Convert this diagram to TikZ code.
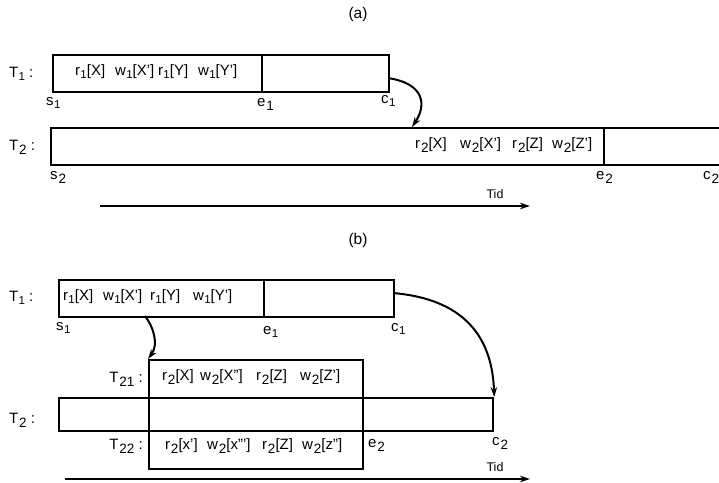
\documentclass[tikz,border=0pt]{standalone}
\usepackage{fontspec}
\setmainfont{Liberation Sans}
\usetikzlibrary{arrows.meta}
\newcommand\lo[1]{\kern0.3pt\raisebox{-3pt}{\fontsize{11.5}{13}\selectfont #1}}
\newcommand\lob[1]{\kern0.8pt\raisebox{-4pt}{\fontsize{13.5}{15}\selectfont #1}}
\newcommand\cell[2]{\makebox[#1][l]{#2}}
\begin{document}
\begin{tikzpicture}[x=1pt,y=-1pt,
  every node/.style={font=\fontsize{15}{17}\selectfont},
  box/.style={draw,line width=2.2pt,inner sep=0pt,anchor=north west},
  lbl/.style={inner sep=0pt,anchor=west},
  txt/.style={inner sep=0pt},
  arr/.style={line width=2pt,-{Stealth[length=10pt,width=6.5pt]}},
  tidlbl/.style={inner sep=0pt,font=\fontsize{12.5}{14}\selectfont},
  captext/.style={inner sep=0pt,font=\fontsize{15.5}{17}\selectfont}]
\useasboundingbox (0,0) rectangle (719,482);
% (a)
\node[captext] (capa) at (358,14) {(a)};
\node[box,minimum width=209pt,minimum height=37pt] (t1aL) at (52,54) {};
\node[box,minimum width=127pt,minimum height=37pt] (t1aR) at (261,54) {};
\node[txt,anchor=west] (t1atxt) at (75,72) {\cell{40pt}{r\lo{1}[X]}\cell{43pt}{w\lo{1}[X']}\cell{40pt}{r\lo{1}[Y]}w\lo{1}[Y']};
\node[box,minimum width=553pt,minimum height=37pt] (t2aL) at (50,127) {};
\node[box,minimum width=150pt,minimum height=37pt] (t2aR) at (603,127) {};
\node[txt,anchor=west] (t2atxt) at (415,145) {\cell{45pt}{r\lob{2}[X]}\cell{52pt}{w\lob{2}[X']}\cell{40pt}{r\lob{2}[Z]}w\lob{2}[Z']};
\node[lbl] (T1a) at (9,74) {T\lo{1} :};
\node[lbl] (T2a) at (9,147) {T\lob{2} :};
\node[lbl] (s1a) at (46,103) {s\lo{1}};
\node[lbl] (e1a) at (257,104) {e\lob{1}};
\node[lbl] (c1a) at (381,101) {c\lo{1}};
\node[lbl] (s2a) at (50,177) {s\lob{2}};
\node[lbl] (e2a) at (596,177) {e\lob{2}};
\node[lbl] (c2a) at (703,177) {c\lob{2}};
\coordinate (a1out) at (388,78);
\coordinate (a2in) at (412,127);
\draw[arr] (a1out) .. controls (426,84) and (426,106) .. (a2in);
\coordinate (tida1) at (100,206);
\coordinate (tida2) at (530,206);
\draw[arr] (tida1) -- (tida2);
\node[tidlbl] (tida) at (495,194) {Tid};
% (b)
\node[captext] (capb) at (358,240) {(b)};
\node[box,minimum width=205pt,minimum height=37pt] (t1bL) at (58,279) {};
\node[box,minimum width=130pt,minimum height=37pt] (t1bR) at (263,279) {};
\node[txt,anchor=west] (t1btxt) at (63,297) {\cell{40pt}{r\lo{1}[X]}\cell{47pt}{w\lo{1}[X']}\cell{43pt}{r\lo{1}[Y]}w\lo{1}[Y']};
\node[box,minimum width=214pt,minimum height=38pt] (t21) at (148,359) {};
\node[txt,anchor=west] (t21txt) at (162,377) {\cell{38pt}{r\lob{2}[X]}\cell{56pt}{w\lob{2}[X'']}\cell{44pt}{r\lob{2}[Z]}w\lob{2}[Z']};
\node[box,minimum width=434pt,minimum height=33pt] (t2b) at (58,397) {};
\node[box,minimum width=214pt,minimum height=33pt] (t2bm) at (148,397) {};
\node[box,minimum width=214pt,minimum height=38pt] (t22) at (148,430) {};
\node[txt,anchor=west] (t22txt) at (165,446) {\cell{42pt}{r\lob{2}[x']}\cell{55pt}{w\lob{2}[x''']}\cell{40pt}{r\lob{2}[Z]}w\lob{2}[z'']};
\node[lbl] (T1b) at (9,298) {T\lo{1} :};
\node[lbl] (T2b) at (9,420) {T\lob{2} :};
\node[txt,anchor=east] (T21b) at (143,379) {T\lob{21} :};
\node[txt,anchor=east] (T22b) at (143,446) {T\lob{22} :};
\node[lbl] (s1b) at (56,328) {s\lo{1}};
\node[lbl] (e1b) at (263,332) {e\lo{1}};
\node[lbl] (c1b) at (391,329) {c\lo{1}};
\node[lbl] (e2b) at (368,445) {e\lob{2}};
\node[lbl] (c2b) at (492,443) {c\lob{2}};
\coordinate (b1out) at (145,316);
\draw[arr] (b1out) .. controls (153,326) and (159,344) .. (t21.north west);
\coordinate (b2out) at (393,293);
\draw[arr] (b2out) .. controls (452,298) and (492,326) .. (t2b.north east);
\coordinate (tidb1) at (65,479);
\coordinate (tidb2) at (530,479);
\draw[arr] (tidb1) -- (tidb2);
\node[tidlbl] (tidb) at (495,467) {Tid};
\end{tikzpicture}
\end{document}
